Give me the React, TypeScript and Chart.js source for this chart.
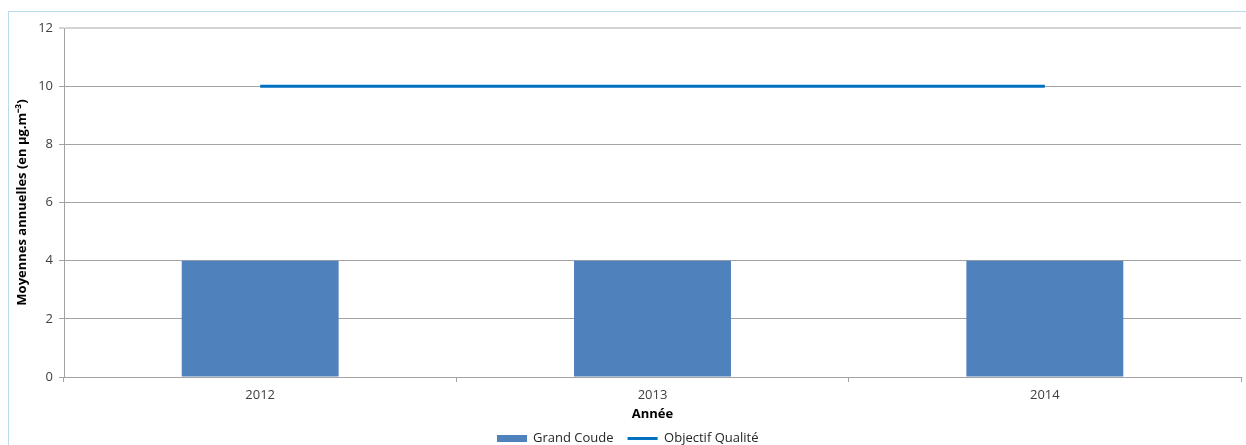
import React, { useEffect, useRef } from "react";
import { Chart, registerables } from "chart.js";

Chart.register(...registerables);

const years = ["2012", "2013", "2014"];
const grandCoude = [4, 4, 4];
const objectifQualite = [10, 10, 10];
const yTicks = [0, 2, 4, 6, 8, 10, 12];

const BAR_COLOR = "#4F81BD";
const LINE_COLOR = "#0070C0";
const GRID_COLOR = "#a3a3a3";
const FONT = "'Open Sans', 'Liberation Sans', sans-serif";

function legendSwatch(): HTMLCanvasElement {
  const c = document.createElement("canvas");
  c.width = 30;
  c.height = 7;
  const g = c.getContext("2d");
  if (g) {
    g.fillStyle = BAR_COLOR;
    g.fillRect(0, 0, 30, 7);
  }
  return c;
}

export default function App() {
  const ref = useRef<HTMLCanvasElement | null>(null);

  useEffect(() => {
    if (!ref.current) return;
    const chart = new Chart(ref.current, {
      type: "bar",
      data: {
        labels: years,
        datasets: [
          {
            type: "line",
            label: "Objectif Qualité",
            data: objectifQualite,
            borderColor: LINE_COLOR,
            backgroundColor: LINE_COLOR,
            borderWidth: 3,
            pointRadius: 0,
            pointStyle: "line",
            order: 0,
          } as any,
          {
            type: "bar",
            label: "Grand Coude",
            data: grandCoude,
            backgroundColor: BAR_COLOR,
            borderWidth: 0,
            barPercentage: 0.4,
            categoryPercentage: 1,
            pointStyle: legendSwatch(),
            order: 1,
          } as any,
        ],
      },
      options: {
        animation: false,
        responsive: false,
        maintainAspectRatio: false,
        layout: { padding: { left: 14, top: 28, right: 5, bottom: 0 } },
        plugins: {
          tooltip: { enabled: false },
          legend: {
            position: "bottom",
            reverse: true,
            labels: {
              usePointStyle: true,
              pointStyleWidth: 30,
              boxHeight: 7,
              padding: 14,
              color: "#262626",
              font: { family: FONT, size: 13 },
            },
          },
        },
        scales: {
          x: {
            grid: {
              display: true,
              drawOnChartArea: false,
              drawTicks: true,
              tickLength: 5,
              offset: true,
              color: GRID_COLOR,
            },
            border: { display: true, color: GRID_COLOR },
            ticks: {
              color: "#404040",
              padding: 5,
              font: { family: FONT, size: 13 },
            },
            title: {
              display: true,
              text: "Année",
              color: "#000000",
              padding: { top: 0, bottom: -4 },
              font: { family: FONT, size: 13, weight: "bold" },
            },
            afterFit: (scale: any) => {
              scale.height = 41;
            },
          },
          y: {
            min: 0,
            max: 12,
            afterBuildTicks: (scale: any) => {
              scale.ticks = yTicks.map((v) => ({ value: v }));
            },
            grid: {
              color: (ctx: any) =>
                ctx.tick && ctx.tick.value === 12 ? "#d4d4d4" : GRID_COLOR,
              lineWidth: (ctx: any) => (ctx.tick && ctx.tick.value === 12 ? 2 : 1),
              tickLength: 5,
            },
            border: { display: true, color: GRID_COLOR },
            ticks: {
              color: "#404040",
              padding: 6,
              font: { family: FONT, size: 13 },
            },
            title: {
              display: true,
              text: "Moyennes annuelles (en µg.m⁻³)",
              color: "#000000",
              padding: { top: 0, bottom: 4 },
              font: { family: FONT, size: 13, weight: "bold" },
            },
            afterFit: (scale: any) => {
              scale.width = 50;
            },
          },
        },
      },
    });
    return () => chart.destroy();
  }, []);

  return (
    <div
      style={{
        position: "absolute",
        left: 0,
        top: 0,
        width: 1246,
        height: 445,
        background: "#ffffff",
        overflow: "hidden",
      }}
    >
      <div
        style={{
          position: "absolute",
          left: 8,
          top: 11,
          width: 1300,
          height: 500,
          borderLeft: "1px solid #b7dcec",
          borderTop: "1px solid #b7dcec",
        }}
      />
      <canvas
        ref={ref}
        width={1246}
        height={455}
        style={{ position: "absolute", left: 0, top: 0 }}
      />
    </div>
  );
}
